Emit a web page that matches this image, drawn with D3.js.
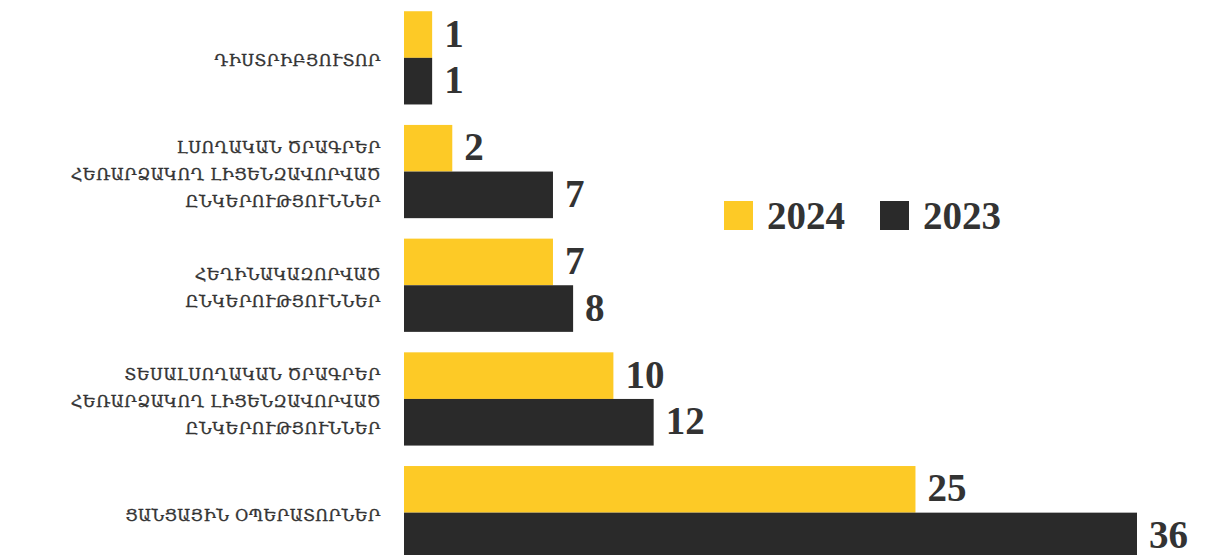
<!DOCTYPE html>
<html lang="hy">
<head>
  <meta charset="UTF-8" />
  <title>Bar chart 2024 / 2023</title>
  <script src="https://cdnjs.cloudflare.com/ajax/libs/d3/7.8.5/d3.min.js"></script>
  <style>
    html, body { margin: 0; padding: 0; background: #fff; overflow: hidden; }
    svg { display: block; }
    .cat { font-family: "DejaVu Serif", serif; font-size: 16px; fill: #333; stroke: #333; stroke-width: 0.35px; letter-spacing: 0.5px; }
    .val, .leg { font-family: "Liberation Serif", serif; font-weight: bold; font-size: 39px; fill: #333; }
  </style>
</head>
<body>
<script>
  // ------ data ------
  const categories = [
    ["ԴԻՍՏՐԻԲՅՈՒՏՈՐ"],
    ["ԼՍՈՂԱԿԱՆ ԾՐԱԳՐԵՐ", "ՀԵՌԱՐՁԱԿՈՂ ԼԻՑԵՆԶԱՎՈՐՎԱԾ", "ԸՆԿԵՐՈՒԹՅՈՒՆՆԵՐ"],
    ["ՀԵՂԻՆԱԿԱԶՈՐՎԱԾ", "ԸՆԿԵՐՈՒԹՅՈՒՆՆԵՐ"],
    ["ՏԵՍԱԼՍՈՂԱԿԱՆ ԾՐԱԳՐԵՐ", "ՀԵՌԱՐՁԱԿՈՂ ԼԻՑԵՆԶԱՎՈՐՎԱԾ", "ԸՆԿԵՐՈՒԹՅՈՒՆՆԵՐ"],
    ["ՑԱՆՑԱՅԻՆ ՕՊԵՐԱՏՈՐՆԵՐ"]
  ];
  const seriesNames = ["2024", "2023"];
  const values2024 = [1, 2, 7, 10, 25];
  const values2023 = [1, 7, 8, 12, 36];
  const colors = ["#FDCA26", "#2A2A2A"];

  const width = 1208, height = 555;
  const svg = d3.select("body").append("svg")
    .attr("width", width).attr("height", height);

  const rows = categories.map((lines, i) => ({
    key: i, lines, vals: [values2024[i], values2023[i]]
  }));

  // ------ scales ------
  const x0 = 404;
  const x = d3.scaleLinear().domain([0, 36]).range([x0 + 8, x0 + 733]);
  const y = d3.scaleBand().domain(rows.map(r => r.key))
    .range([1, 569.5]).paddingInner(0.18).paddingOuter(0.09);
  const ySub = d3.scaleBand().domain(seriesNames).range([0, y.bandwidth()]);

  // ------ bars ------
  const g = svg.selectAll("g.row").data(rows).enter().append("g")
    .attr("class", "row")
    .attr("transform", d => `translate(0,${y(d.key)})`);

  seriesNames.forEach((s, si) => {
    g.append("rect")
      .attr("x", x0)
      .attr("y", ySub(s))
      .attr("width", d => x(d.vals[si]) - x0)
      .attr("height", ySub.bandwidth())
      .attr("fill", colors[si]);
    g.append("text")
      .attr("class", "val")
      .attr("x", d => x(d.vals[si]) + 12)
      .attr("y", ySub(s) + ySub.bandwidth() / 2 + 12)
      .text(d => d.vals[si]);
  });

  // ------ category labels ------
  const lineH = 27;
  g.append("text")
    .attr("class", "cat")
    .attr("text-anchor", "end")
    .each(function(d) {
      const t = d3.select(this);
      const n = d.lines.length;
      d.lines.forEach((ln, i) => {
        t.append("tspan")
          .attr("x", 381)
          .attr("y", y.bandwidth() / 2 + 8 + (i - (n - 1) / 2) * lineH)
          .text(ln);
      });
    });

  // ------ legend ------
  const legX = [724, 880];
  const leg = svg.append("g");
  seriesNames.forEach((s, i) => {
    leg.append("rect").attr("x", legX[i]).attr("y", 201)
      .attr("width", 29).attr("height", 29).attr("fill", colors[i]);
    leg.append("text").attr("class", "leg")
      .attr("x", legX[i] + 43).attr("y", 229).text(s);
  });
</script>
</body>
</html>
